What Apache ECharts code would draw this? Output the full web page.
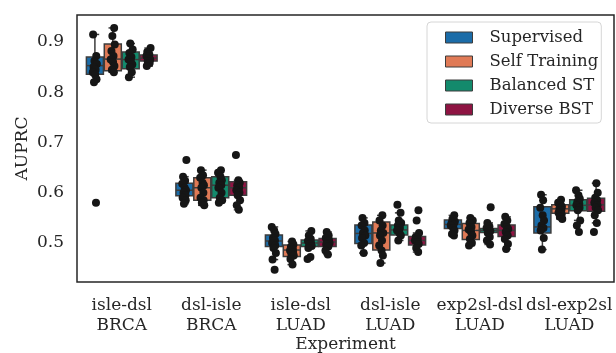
<!DOCTYPE html>
<html>
<head>
<meta charset="utf-8">
<script src="https://cdn.jsdelivr.net/npm/echarts@6/dist/echarts.min.js"></script>
<style>html,body{margin:0;padding:0;background:#fff}#c{width:616px;height:353px}</style>
</head>
<body>
<div id="c"></div>
<script>
const categories = ['isle-dsl\nBRCA','dsl-isle\nBRCA','isle-dsl\nLUAD','dsl-isle\nLUAD','exp2sl-dsl\nLUAD','dsl-exp2sl\nLUAD'];
const methods = ['Supervised','Self Training','Balanced ST','Diverse BST'];
const yTicks = [0.5, 0.6, 0.7, 0.8, 0.9];

// box stats per category: [lower whisker, Q1, median, Q3, upper whisker]
const supervisedBox = [
  [0.822, 0.836, 0.853, 0.870, 0.915],
  [0.578, 0.594, 0.605, 0.619, 0.632],
  [0.467, 0.493, 0.504, 0.516, 0.532],
  [0.480, 0.499, 0.519, 0.536, 0.550],
  [0.515, 0.529, 0.537, 0.546, 0.555],
  [0.487, 0.520, 0.532, 0.572, 0.596]
];
const selfTrainingBox = [
  [0.840, 0.843, 0.866, 0.896, 0.928],
  [0.575, 0.585, 0.610, 0.630, 0.645],
  [0.457, 0.473, 0.486, 0.496, 0.503],
  [0.460, 0.486, 0.520, 0.542, 0.555],
  [0.495, 0.507, 0.525, 0.539, 0.550],
  [0.548, 0.559, 0.568, 0.576, 0.586]
];
const balancedBox = [
  [0.830, 0.847, 0.865, 0.880, 0.897],
  [0.580, 0.590, 0.615, 0.632, 0.645],
  [0.490, 0.493, 0.500, 0.506, 0.524],
  [0.505, 0.516, 0.526, 0.536, 0.560],
  [0.497, 0.521, 0.525, 0.529, 0.540],
  [0.545, 0.564, 0.575, 0.586, 0.605]
];
const diverseBox = [
  [0.852, 0.862, 0.868, 0.874, 0.888],
  [0.566, 0.595, 0.610, 0.622, 0.625],
  [0.477, 0.493, 0.502, 0.509, 0.522],
  [0.482, 0.496, 0.505, 0.513, 0.520],
  [0.488, 0.513, 0.525, 0.536, 0.552],
  [0.540, 0.563, 0.576, 0.589, 0.619]
];

// individual runs per category
const supervisedPoints = [
  [0.915, 0.872, 0.862, 0.856, 0.850, 0.845, 0.840, 0.835, 0.826, 0.820, 0.580],
  [0.665, 0.632, 0.624, 0.618, 0.610, 0.605, 0.600, 0.595, 0.590, 0.585, 0.578],
  [0.532, 0.525, 0.518, 0.510, 0.505, 0.500, 0.495, 0.490, 0.480, 0.467, 0.447],
  [0.550, 0.540, 0.535, 0.525, 0.520, 0.515, 0.510, 0.500, 0.495, 0.480],
  [0.555, 0.548, 0.543, 0.540, 0.537, 0.535, 0.530, 0.525, 0.518, 0.515],
  [0.596, 0.585, 0.570, 0.555, 0.545, 0.535, 0.530, 0.525, 0.510, 0.487]
];
const selfTrainingPoints = [
  [0.928, 0.912, 0.895, 0.882, 0.872, 0.865, 0.860, 0.852, 0.845, 0.840],
  [0.645, 0.635, 0.630, 0.620, 0.615, 0.610, 0.600, 0.590, 0.585, 0.580, 0.575],
  [0.503, 0.497, 0.492, 0.488, 0.485, 0.482, 0.478, 0.475, 0.468, 0.457],
  [0.555, 0.545, 0.535, 0.525, 0.520, 0.515, 0.505, 0.495, 0.485, 0.475, 0.460],
  [0.550, 0.545, 0.540, 0.532, 0.527, 0.522, 0.515, 0.508, 0.500, 0.495],
  [0.586, 0.580, 0.576, 0.572, 0.568, 0.565, 0.560, 0.557, 0.552, 0.548]
];
const balancedPoints = [
  [0.897, 0.885, 0.878, 0.870, 0.865, 0.860, 0.855, 0.850, 0.840, 0.830],
  [0.645, 0.640, 0.632, 0.625, 0.620, 0.615, 0.610, 0.600, 0.590, 0.585, 0.580],
  [0.524, 0.515, 0.508, 0.504, 0.500, 0.497, 0.494, 0.490, 0.472, 0.468],
  [0.576, 0.560, 0.545, 0.540, 0.535, 0.530, 0.525, 0.520, 0.515, 0.505],
  [0.571, 0.540, 0.533, 0.530, 0.527, 0.524, 0.520, 0.512, 0.505, 0.497],
  [0.605, 0.595, 0.588, 0.582, 0.578, 0.575, 0.570, 0.565, 0.545, 0.535, 0.522]
];
const diversePoints = [
  [0.888, 0.880, 0.875, 0.872, 0.868, 0.865, 0.862, 0.858, 0.852],
  [0.675, 0.625, 0.620, 0.615, 0.610, 0.605, 0.600, 0.595, 0.585, 0.575, 0.566],
  [0.522, 0.515, 0.510, 0.506, 0.503, 0.500, 0.497, 0.493, 0.485, 0.477],
  [0.565, 0.545, 0.520, 0.512, 0.508, 0.505, 0.502, 0.498, 0.490, 0.482],
  [0.552, 0.545, 0.538, 0.532, 0.528, 0.522, 0.515, 0.508, 0.498, 0.488],
  [0.619, 0.600, 0.590, 0.585, 0.580, 0.575, 0.570, 0.565, 0.555, 0.540, 0.522]
];

const boxes = [supervisedBox, selfTrainingBox, balancedBox, diverseBox];
const points = [supervisedPoints, selfTrainingPoints, balancedPoints, diversePoints];
const colors = ['#1b6ca8', '#e07a56', '#138a6c', '#8e1442'];
const edge = '#3c3c3c';
const textColor = '#262626';
const font = 'DejaVu Serif';
const jitterPattern = [-0.02, 0.015, -0.005, 0.022, -0.015, 0.008, -0.024, 0.003, 0.018, -0.01, 0.012];

function hueCenter(ci, h) { return ci + (h - 1.5) * 0.2; }

function makeRender(h) {
  return function (params, api) {
    const ci = api.value(0);
    const xc = hueCenter(ci, h);
    const hw = 0.095, cw = 0.048;
    const lo = api.value(1), q1 = api.value(2), med = api.value(3), q3 = api.value(4), hi = api.value(5);
    const P = (x, y) => api.coord([x, y]);
    const st = { stroke: edge, lineWidth: 1.5, fill: null };
    const line = (a, b) => ({ type: 'line', shape: { x1: a[0], y1: a[1], x2: b[0], y2: b[1] }, style: st });
    const tl = P(xc - hw, q3), br = P(xc + hw, q1);
    return {
      type: 'group',
      children: [
        line(P(xc, q3), P(xc, hi)),
        line(P(xc, q1), P(xc, lo)),
        line(P(xc - cw, hi), P(xc + cw, hi)),
        line(P(xc - cw, lo), P(xc + cw, lo)),
        { type: 'rect', shape: { x: tl[0], y: tl[1], width: br[0] - tl[0], height: br[1] - tl[1] },
          style: { fill: api.visual('color'), stroke: edge, lineWidth: 1.5 } },
        line(P(xc - hw, med), P(xc + hw, med))
      ]
    };
  };
}

const series = [];
methods.forEach((m, h) => {
  series.push({
    name: m,
    type: 'custom',
    xAxisIndex: 1,
    yAxisIndex: 0,
    itemStyle: { color: colors[h], borderColor: edge, borderWidth: 1 },
    renderItem: makeRender(h),
    encode: { x: 0, y: [1, 2, 3, 4, 5] },
    data: boxes[h].map((b, ci) => [ci].concat(b)),
    z: 2,
    silent: true
  });
});
methods.forEach((m, h) => {
  const d = [];
  points[h].forEach((arr, ci) => {
    arr.forEach((v, k) => {
      d.push([hueCenter(ci, h) + jitterPattern[(k + ci * 3 + h) % jitterPattern.length], v]);
    });
  });
  series.push({
    name: m + ' runs',
    type: 'scatter',
    xAxisIndex: 1,
    yAxisIndex: 0,
    symbolSize: 8,
    itemStyle: { color: '#161616', opacity: 1 },
    data: d,
    z: 5,
    silent: true
  });
});

const chart = echarts.init(document.getElementById('c'), null, { renderer: 'canvas' });
chart.setOption({
  animation: false,
  backgroundColor: '#ffffff',
  textStyle: { fontFamily: font },
  grid: { left: 77, right: 2, top: 15, bottom: 71, outerBoundsMode: 'none', containLabel: false, show: true, borderColor: textColor, borderWidth: 1.5, backgroundColor: 'transparent' },
  legend: {
    data: methods.map((m, h) => ({ name: m, itemStyle: { color: colors[h], borderColor: edge, borderWidth: 1 } })),
    orient: 'vertical',
    left: 427,
    top: 22,
    itemWidth: 27,
    itemHeight: 11,
    itemGap: 7,
    icon: 'rect',
    padding: [7, 3, 5, 18],
    backgroundColor: '#ffffff',
    borderColor: '#d6d6d6',
    borderWidth: 1,
    borderRadius: 4,
    textStyle: { fontFamily: font, fontSize: 16.5, color: textColor, lineHeight: 16, padding: [0, 0, 0, 12] }
  },
  xAxis: [
    {
      type: 'category',
      data: categories,
      boundaryGap: true,
      name: 'Experiment',
      nameLocation: 'middle',
      nameMoveOverlap: false,
      nameGap: 54,
      nameTextStyle: { fontFamily: font, fontSize: 17, color: textColor },
      axisLine: { show: false },
      axisTick: { show: false },
      axisLabel: { fontFamily: font, fontSize: 17, color: textColor, margin: 14, lineHeight: 20, interval: 0 },
      splitLine: { show: false }
    },
    {
      type: 'value',
      show: false,
      min: -0.5,
      max: 5.5
    }
  ],
  yAxis: [{
    type: 'value',
    min: 0.42239,
    max: 0.95373,
    name: 'AUPRC',
    nameLocation: 'middle',
    nameMoveOverlap: false,
    nameGap: 46,
    nameTextStyle: { fontFamily: font, fontSize: 17, color: textColor },
    axisLine: { show: false },
    axisTick: { show: false },
    splitLine: { show: false },
    axisLabel: {
      fontFamily: font, fontSize: 17, color: textColor, margin: 13,
      customValues: yTicks,
      formatter: v => v.toFixed(1)
    }
  }],
  series: series
});
</script>
</body>
</html>
